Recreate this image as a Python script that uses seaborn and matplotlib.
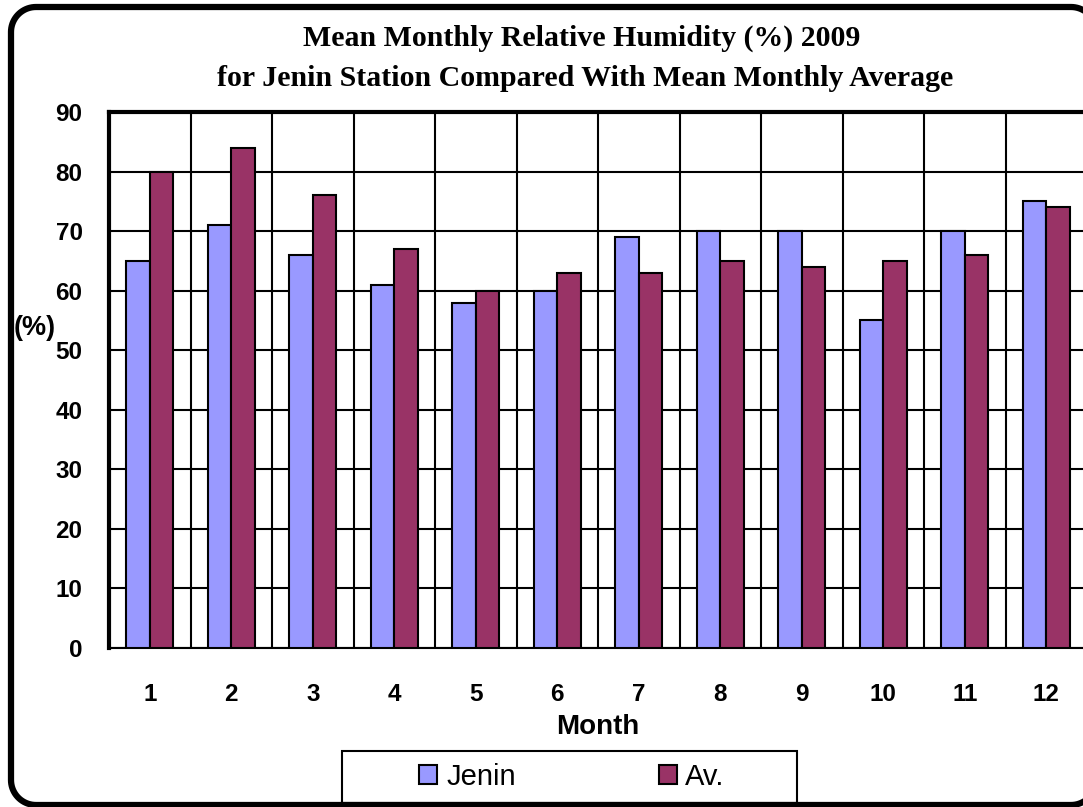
import numpy as np
import pandas as pd
import matplotlib
matplotlib.use("Agg")
import matplotlib.pyplot as plt
from matplotlib.patches import Rectangle
from matplotlib.lines import Line2D
import seaborn as sns

months = ["1", "2", "3", "4", "5", "6", "7", "8", "9", "10", "11", "12"]
jenin = [65, 71, 66, 61, 58, 60, 69, 70, 70, 55, 70, 75]
average = [80, 84, 76, 67, 60, 63, 63, 65, 64, 65, 66, 74]
series_names = ["Jenin", "Av."]
y_ticks = list(range(0, 100, 10))

df = pd.DataFrame({
    "Month": months * 2,
    "Value": jenin + average,
    "Series": [series_names[0]] * 12 + [series_names[1]] * 12,
})

sns.set_style("white")
plt.rcParams["font.family"] = ["Liberation Sans", "DejaVu Sans"]
for k in ["text.color", "axes.labelcolor", "xtick.color", "ytick.color"]:
    plt.rcParams[k] = "black"

fig = plt.figure(figsize=(10.83, 8.07), dpi=100)
W, H = 1083, 807
ax = fig.add_axes([109 / W, 1 - 648 / H, (1087 - 109) / W, (648 - 112) / H])

sns.barplot(data=df, x="Month", y="Value", hue="Series", ax=ax,
            palette=["#9999FF", "#993366"], edgecolor="black", linewidth=1.5,
            width=0.58, saturation=1, legend=True, zorder=3)

ax.set_ylim(0, 90)
ax.set_xlim(-0.5, 11.5)
ax.set_yticks(y_ticks)
ax.set_yticklabels([str(v) for v in y_ticks], fontsize=17.5, fontweight="bold")
ax.set_xticks(range(12))
ax.set_xticklabels(months, fontsize=17.5, fontweight="bold")
ax.set_xticks(np.arange(-0.5, 12, 1), minor=True)
ax.tick_params(axis="x", which="major", length=0, pad=25)
ax.tick_params(axis="x", which="minor", length=7, width=1.5, direction="out", color="black")
ax.tick_params(axis="y", which="major", length=7, width=1.5, direction="out", color="black", pad=12)
ax.grid(axis="y", which="major", color="black", linewidth=1.5, zorder=0)
ax.grid(axis="x", which="minor", color="black", linewidth=1.5, zorder=0)
ax.set_axisbelow(True)
for s in ["top", "left"]:
    ax.spines[s].set_linewidth(3)
ax.spines["bottom"].set_linewidth(1.5)
ax.spines["right"].set_visible(False)
for s in ax.spines.values():
    s.set_color("black")

ax.set_xlabel("Month", fontsize=20, fontweight="bold", labelpad=6)
ax.set_ylabel("")
fig.text(14 / W, 1 - 328 / H, "(%)", fontsize=19.5, fontweight="bold", va="center", ha="left")

fig.text(582 / W, 1 - 38 / H, "Mean Monthly Relative Humidity (%) 2009",
         family="Liberation Serif", fontsize=21.5, fontweight="bold", ha="center", va="center")
fig.text(585 / W, 1 - 78 / H, "for Jenin Station Compared With Mean Monthly Average",
         family="Liberation Serif", fontsize=21.5, fontweight="bold", ha="center", va="center")

handles, labels = ax.get_legend_handles_labels()
ax.get_legend().remove()
leg = fig.legend(handles, labels, loc="center", bbox_to_anchor=(572 / W, 1 - 777 / H),
                 ncol=2, fontsize=21, frameon=False,
                 columnspacing=4.9, handlelength=0.62, handleheight=0.62, handletextpad=0.3)
fig.patches.append(Rectangle((342 / W, 1 - 803 / H), (797 - 342) / W, 52 / H,
                             transform=fig.transFigure, fill=False, edgecolor="black",
                             linewidth=1.5))

# rounded outer frame, in pixels (origin bottom-left)
x0, x1, y0, y1, r = 11, 1096, 2, 800, 25
px, py = [], []
for cx, cy, a0 in [(x1 - r, y1 - r, 0), (x0 + r, y1 - r, 90), (x0 + r, y0 + r, 180), (x1 - r, y0 + r, 270)]:
    t = np.radians(np.linspace(a0, a0 + 90, 20))
    px.extend(cx + r * np.cos(t))
    py.extend(cy + r * np.sin(t))
px.append(px[0])
py.append(py[0])
fig.lines.append(Line2D(np.array(px) / W, np.array(py) / H, transform=fig.transFigure,
                        color="black", linewidth=4.5, solid_joinstyle="round"))

fig.savefig("out.png", dpi=100)
